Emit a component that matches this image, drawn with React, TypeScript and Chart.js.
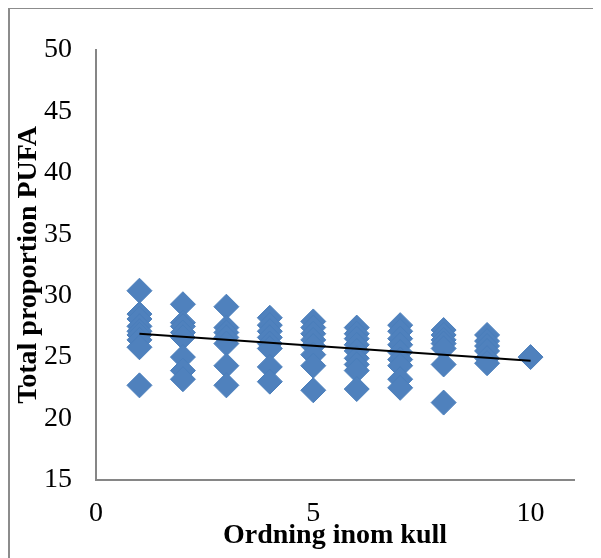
import React, { useEffect, useRef } from "react";
import { Chart, registerables } from "chart.js";

Chart.register(...registerables);

// Ordning inom kull (birth order) and total proportion PUFA
const orderValues: number[] = [
  1, 1, 1, 1, 1, 1, 1, 1, 1,
  2, 2, 2, 2, 2, 2, 2, 2,
  3, 3, 3, 3, 3, 3, 3,
  4, 4, 4, 4, 4, 4, 4, 4,
  5, 5, 5, 5, 5, 5, 5, 5,
  6, 6, 6, 6, 6, 6, 6, 6, 6,
  7, 7, 7, 7, 7, 7, 7, 7, 7,
  8, 8, 8, 8, 8, 8, 8,
  9, 9, 9, 9, 9, 9,
  10,
];
const pufaValues: number[] = [
  30.4, 28.5, 28.1, 27.5, 27.1, 26.8, 26.4, 25.8, 22.7,
  29.3, 27.8, 27.5, 27.0, 26.6, 25.0, 23.9, 23.2,
  29.1, 27.4, 27.0, 26.6, 26.1, 24.3, 22.7,
  28.2, 27.6, 27.1, 26.6, 26.1, 25.7, 24.2, 23.0,
  27.9, 27.4, 26.9, 26.4, 25.9, 25.2, 24.3, 22.3,
  27.4, 26.9, 26.5, 26.0, 25.5, 24.9, 24.4, 23.9, 22.4,
  27.6, 27.1, 26.5, 26.0, 25.4, 24.8, 24.3, 23.2, 22.5,
  27.2, 26.8, 26.4, 26.1, 25.7, 24.4, 21.3,
  26.8, 26.3, 25.9, 25.5, 24.9, 24.5,
  25.0,
];

// Linear trendline end points
const trendX: number[] = [1, 10];
const trendY: number[] = [26.9, 24.7];

const xTitle = "Ordning inom kull";
const yTitle = "Total proportion PUFA";

const FONT = "'Liberation Serif', 'DejaVu Serif', serif";

export default function App() {
  const canvasRef = useRef<HTMLCanvasElement | null>(null);

  useEffect(() => {
    document.body.style.overflow = "hidden";
    const canvas = canvasRef.current;
    if (!canvas) return;
    const points = orderValues.map((x, i) => ({ x, y: pufaValues[i] }));
    const trend = trendX.map((x, i) => ({ x, y: trendY[i] }));
    const chart = new Chart(canvas, {
      type: "scatter",
      data: {
        datasets: [
          {
            type: "line",
            data: trend,
            borderColor: "#000000",
            borderWidth: 2,
            pointRadius: 0,
            fill: false,
            order: 0,
          } as any,
          {
            data: points,
            pointStyle: "rectRot",
            pointRadius: 12.5,
            pointHoverRadius: 12.5,
            backgroundColor: "#4F81BD",
            borderColor: "#4A7EBB",
            borderWidth: 1,
            order: 1,
          },
        ],
      },
      options: {
        animation: false,
        responsive: false,
        maintainAspectRatio: false,
        layout: { padding: { top: 19, right: 27, left: 0, bottom: 0 } },
        plugins: {
          legend: { display: false },
          tooltip: { enabled: false },
        },
        scales: {
          x: {
            type: "linear",
            min: 0,
            max: 11,
            grid: { display: false, drawTicks: false, tickLength: 0 },
            border: { display: true, color: "#868686", width: 2 },
            ticks: {
              stepSize: 5,
              includeBounds: false,
              padding: 17,
              color: "#000000",
              font: { family: FONT, size: 28 },
            },
            title: {
              display: true,
              text: xTitle,
              color: "#000000",
              font: { family: FONT, size: 28, weight: "bold" },
              padding: { top: 0, bottom: 5 },
            },
            afterFit: (scale: any) => {
              scale.height = 78;
            },
          },
          y: {
            type: "linear",
            min: 15,
            max: 50,
            grid: { display: false, drawTicks: false, tickLength: 0 },
            border: { display: true, color: "#868686", width: 2 },
            ticks: {
              stepSize: 5,
              padding: 24,
              color: "#000000",
              font: { family: FONT, size: 28 },
            },
            title: {
              display: true,
              text: yTitle,
              color: "#000000",
              font: { family: FONT, size: 28, weight: "bold" },
              padding: { top: 2, bottom: 0 },
            },
            afterFit: (scale: any) => {
              scale.width = 86;
            },
          },
        },
      },
    });
    return () => chart.destroy();
  }, []);

  return (
    <div
      style={{
        width: 593,
        height: 551,
        marginTop: -1,
        borderLeft: "2px solid #8c8c8c",
        borderTop: "2px solid #8c8c8c",
        boxSizing: "border-box",
        background: "#ffffff",
      }}
    >
      <canvas
        ref={canvasRef}
        width={591}
        height={549}
        style={{ display: "block", width: 591, height: 549 }}
      />
    </div>
  );
}
